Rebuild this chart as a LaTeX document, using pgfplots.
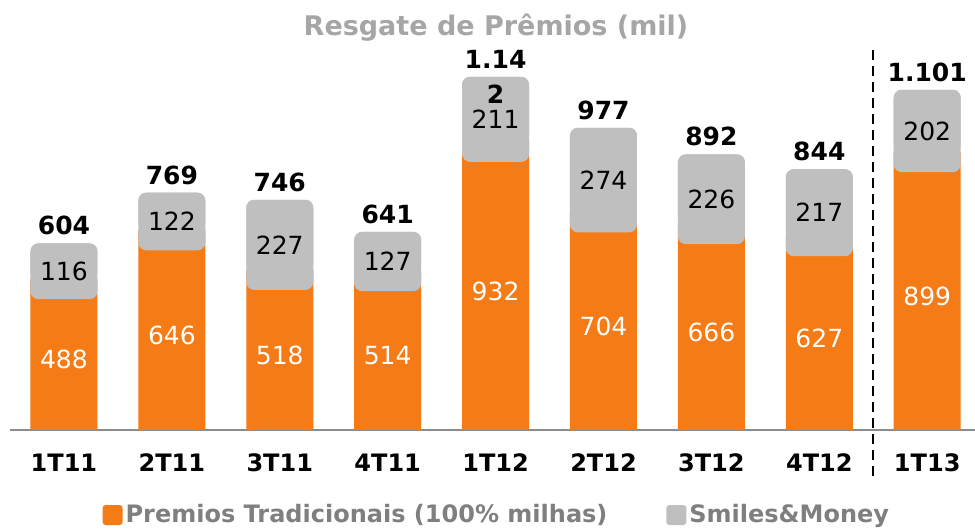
\documentclass[border=0pt]{standalone}
\usepackage{pgfplots}
\pgfplotsset{compat=1.18}
\usepackage{pgfplotstable}
\usepackage{fontspec}
\setmainfont{DejaVu Sans}
\definecolor{orng}{HTML}{F47B16}
\definecolor{smgray}{HTML}{BFBFBF}
\definecolor{ttlgray}{HTML}{A6A6A6}
\definecolor{leggray}{HTML}{7F7F7F}
\definecolor{axgray}{HTML}{8C8C8C}
\protected\def\twoline{\vtop{\baselineskip=17.5pt\halign{\hfil##\hfil\cr 1.14\cr 2\cr}}}
\pgfplotstableread{
x or gr tot
0 488 116 604
1 646 122 769
2 518 227 746
3 514 127 641
4 932 211 \twoline
5 704 274 977
6 666 226 892
7 627 217 844
8 899 202 1.101
}\datatab
\begin{document}
\begin{tikzpicture}
\begin{axis}[
  ybar stacked, bar width=33.5pt,
  scale only axis, width=482.5pt, height=195pt,
  xmin=-0.5, xmax=8.443, ymin=0, ymax=1262,
  axis x line=bottom, axis y line=none,
  x axis line style={-, draw=axgray, line width=1pt},
  xtick={0,...,8},
  xticklabels={1T11,2T11,3T11,4T11,1T12,2T12,3T12,4T12,1T13},
  major tick length=0pt, xtick style={draw=none},
  xticklabel style={anchor=center, yshift=-16.5pt, font=\bfseries\fontsize{12}{14}\selectfont},
  ytick=\empty,
  clip=false,
  /pgf/number format/assume math mode=true,
  /pgf/number format/precision=0,
  legend columns=2,
  legend style={draw=none, fill=none, at={(0.505,-0.218)}, anchor=center,
    font=\bfseries\fontsize{12}{14}\selectfont, text=leggray,
    nodes={inner xsep=1.5pt},
    /tikz/every even column/.append style={column sep=28pt}},
]
\addplot[fill=orng, draw=none,
  legend image code/.code={\fill[orng, rounded corners=1.5pt] (0pt,-5pt) rectangle (10pt,5pt);},
  nodes near coords, point meta=explicit symbolic,
  every node near coord/.append style={anchor=center, text=white,
    font=\fontsize{12.5}{15}\selectfont, yshift=-2.5pt}]
  table[x=x, y=or, meta=or] {\datatab};
\addplot[fill=smgray, draw=none, rounded corners=4pt,
  legend image code/.code={\fill[smgray, rounded corners=1.5pt] (0pt,-5pt) rectangle (10pt,5pt);},
  point meta=explicit symbolic,
  visualization depends on={\thisrow{gr} \as \gval},
  nodes near coords={\pgfmathprintnumber{\gval}},
  every node near coord/.append style={anchor=center, text=black,
    fill=smgray, rounded corners=4pt, inner sep=0pt,
    minimum width=33.5pt, minimum height={\gval*0.154517pt+10pt},
    font=\fontsize{12.5}{15}\selectfont, yshift=-5pt,
    label={[anchor=base, yshift=4pt, fill=none, text=black, inner sep=0pt,
      minimum width=0pt, minimum height=0pt,
      font=\bfseries\fontsize{12.5}{15}\selectfont]north:\pgfplotspointmeta}}]
  table[x=x, y=gr, meta=tot] {\datatab};
\legend{Premios Tradicionais (100\% milhas), Smiles\&Money}
\end{axis}
\node[font=\bfseries\fontsize{13.5}{16}\selectfont, text=ttlgray] at (243pt,201pt) {Resgate de Prêmios (mil)};
\draw[black, line width=1pt, dash pattern=on 5pt off 3pt] (431.5pt,190pt) -- (431.5pt,-25pt);
\pgfresetboundingbox
\path (-5pt,-50pt) rectangle (482.5pt,215pt);
\end{tikzpicture}
\end{document}
